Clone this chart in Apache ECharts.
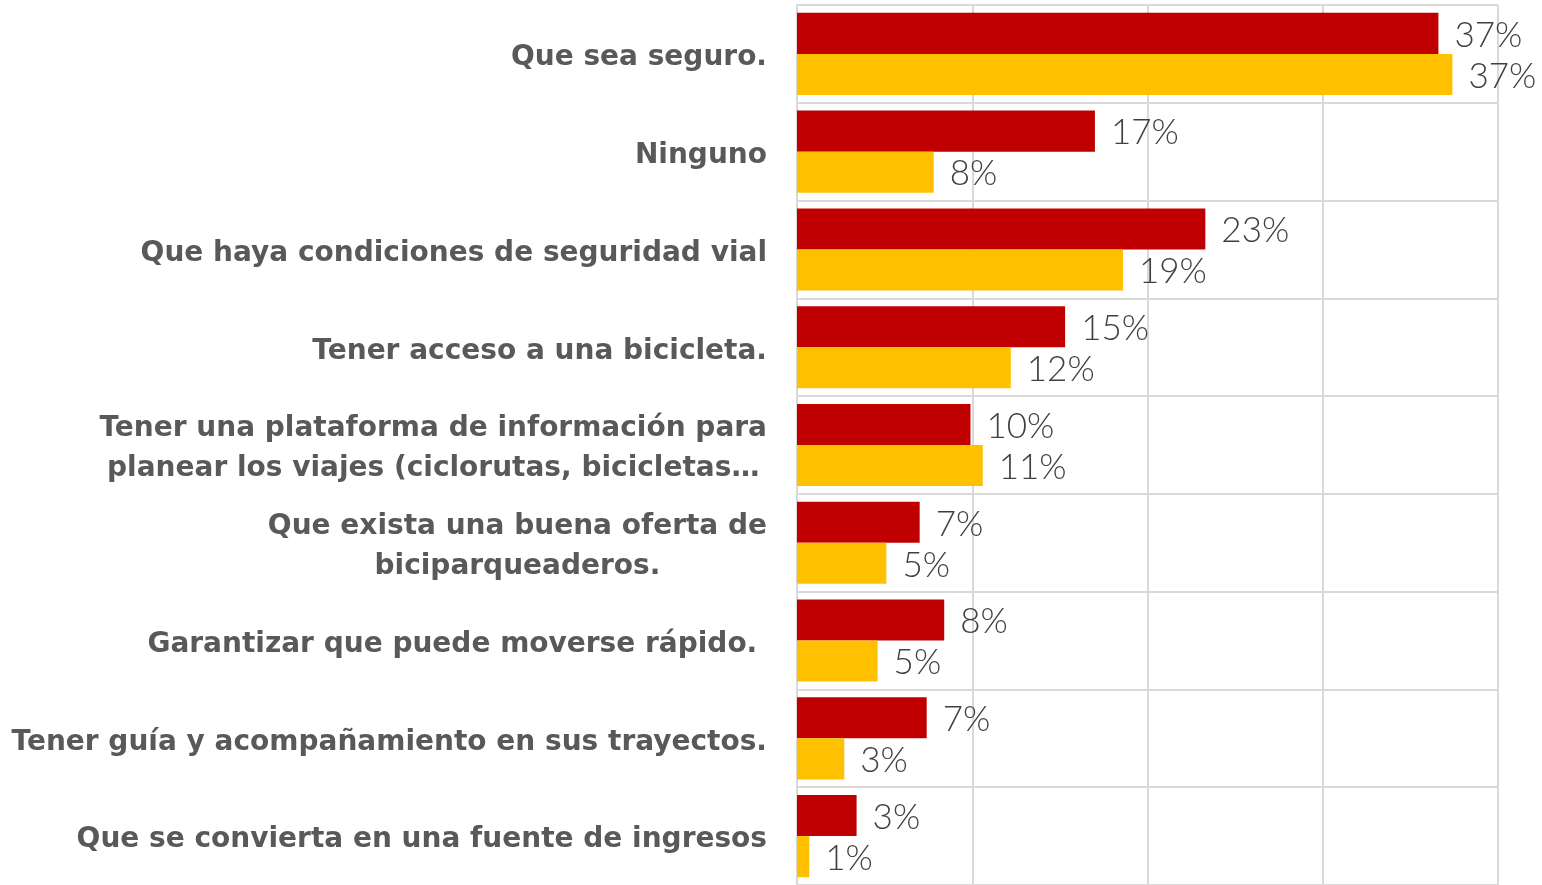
<!DOCTYPE html>
<html>
<head>
<meta charset="utf-8">
<script src="https://cdn.jsdelivr.net/npm/echarts@6/dist/echarts.min.js"></script>
<style>
  html, body { margin: 0; padding: 0; background: #ffffff; }
  #chart { width: 1542px; height: 885px; }
</style>
</head>
<body>
<div id="chart"></div>
<script>
const categories = [
  "Que sea seguro.",
  "Ninguno",
  "Que haya condiciones de seguridad vial",
  "Tener acceso a una bicicleta.",
  "Tener una plataforma de información para\nplanear los viajes (ciclorutas, bicicletas…",
  "Que exista una buena oferta de\nbiciparqueaderos.",
  "Garantizar que puede moverse rápido. ",
  "Tener guía y acompañamiento en sus trayectos.",
  "Que se convierta en una fuente de ingresos"
];
const seriesNames = ["Serie 1", "Serie 2"];
const redValues = [36.6, 17.0, 23.3, 15.3, 9.9, 7.0, 8.4, 7.4, 3.4];
const yellowValues = [37.4, 7.8, 18.6, 12.2, 10.6, 5.1, 4.6, 2.7, 0.7];
const axisTicks = [0, 10, 20, 30, 40];

const chart = echarts.init(document.getElementById('chart'), null, { renderer: 'canvas' });

const catFont = { fontFamily: 'DejaVu Sans', fontWeight: 'bold', fontSize: 28, color: '#595959', lineHeight: 40 };
const valueLabel = {
  show: true,
  position: 'right',
  distance: 15,
  offset: [1, 2],
  fontFamily: 'Lato',
  fontWeight: 300,
  fontSize: 35,
  color: '#404040',
  formatter: p => Math.round(p.value) + '%'
};

chart.setOption({
  animation: false,
  backgroundColor: '#ffffff',
  grid: { left: 797, right: 44, top: 5, bottom: -2, containLabel: false },
  xAxis: {
    type: 'value',
    min: axisTicks[0],
    max: axisTicks[axisTicks.length - 1],
    interval: axisTicks[1] - axisTicks[0],
    axisLabel: { show: false },
    axisLine: { show: false },
    axisTick: { show: false },
    splitLine: { show: true, lineStyle: { color: '#d9d9d9', width: 2 } }
  },
  yAxis: {
    type: 'category',
    inverse: true,
    data: categories,
    axisLine: { show: true, lineStyle: { color: '#d9d9d9', width: 2 } },
    axisTick: { show: false },
    splitLine: { show: true, interval: 0, lineStyle: { color: '#d9d9d9', width: 2 } },
    axisLabel: {
      interval: 0,
      margin: 30,
      padding: [8, 0, 0, 0],
      ...catFont,
      formatter: v => v.split('\n').map(l => '{c|' + l + '}').join('\n'),
      rich: { c: { ...catFont, align: 'center' } }
    }
  },
  series: [
    {
      name: seriesNames[0],
      type: 'bar',
      data: redValues,
      barGap: '0%',
      barCategoryGap: '16%',
      itemStyle: { color: '#C00000' },
      label: valueLabel
    },
    {
      name: seriesNames[1],
      type: 'bar',
      data: yellowValues,
      barGap: '0%',
      barCategoryGap: '16%',
      itemStyle: { color: '#FFC000' },
      label: valueLabel
    }
  ]
});
</script>
</body>
</html>
